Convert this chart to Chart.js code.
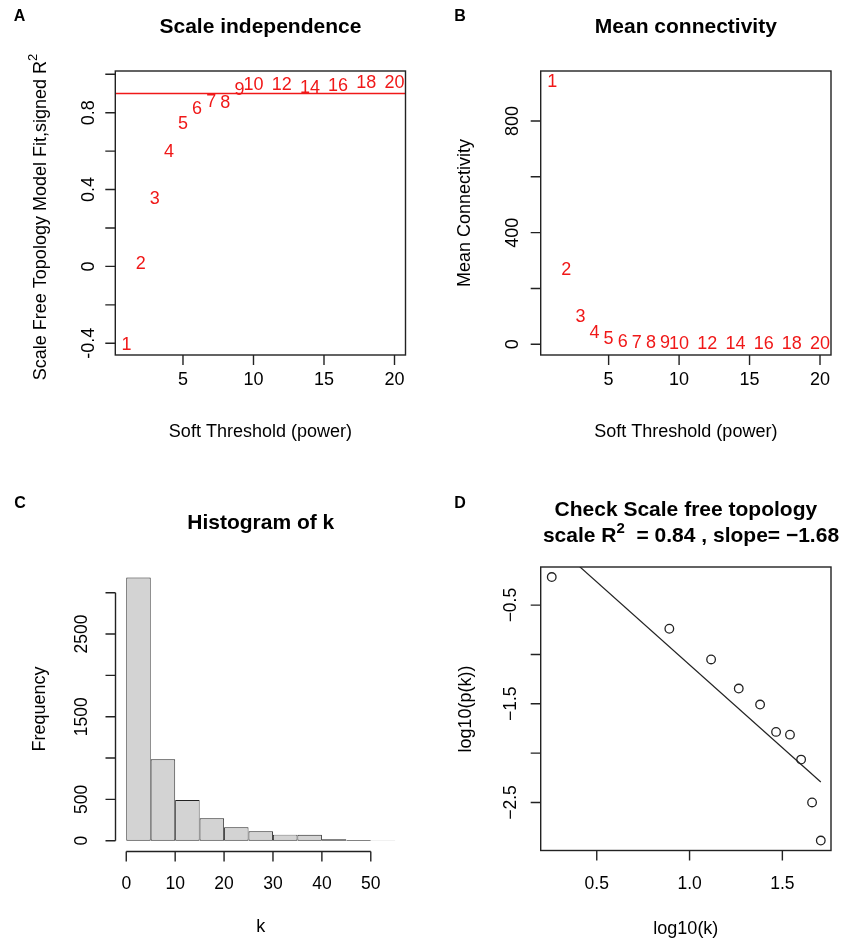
<!DOCTYPE html>
<html><head><meta charset="utf-8">
<script src="https://cdn.jsdelivr.net/npm/chart.js@4.4.1/dist/chart.umd.min.js"></script>
<style>
html,body{margin:0;padding:0;background:#fff;}
#wrap{position:relative;width:843px;height:938px;overflow:hidden;background:#fff;}
canvas{position:absolute;left:0;top:0;}
</style></head><body>
<div id="wrap">
<canvas id="cA" width="843" height="938"></canvas>
<canvas id="cB" width="843" height="938"></canvas>
<canvas id="cC" width="843" height="938"></canvas>
<canvas id="cD" width="843" height="938"></canvas>
</div>
<script>
// ---------- DATA ----------
// Panel A / B : soft-threshold powers
const powers = [1,2,3,4,5,6,7,8,9,10,12,14,16,18,20];
const scaleFreeR2 = [-0.41,0.014,0.353,0.596,0.74,0.82,0.857,0.849,0.92,0.946,0.943,0.926,0.94,0.956,0.953];
const r2Cutoff = 0.9;
const meanConnectivity = [940,266,99,39,19,9,5,4,3,2,1,0.6,0.4,0.3,0.2];
// Panel C : histogram of k
const histBinStart = [0,5,10,15,20,25,30,35,40,45,50];
const histBinWidth = 5;
const histCounts = [3184,985,493,271,162,114,73,72,18,10,3];
// Panel D : scale-free check
const log10k = [0.2575,0.891,1.116,1.265,1.380,1.466,1.541,1.601,1.660,1.707];
const log10pk = [-0.216,-0.740,-1.051,-1.346,-1.508,-1.785,-1.813,-2.066,-2.500,-2.886];
const fitLineX = [0.2575,1.707];
const fitLineY = [0.142,-2.293];
// Tick values and labels
const ticksAx = [5,10,15,20];
const ticksAy = [-0.4,-0.2,0,0.2,0.4,0.6,0.8,1.0];
const labelsAy = ['-0.4','','0','','0.4','','0.8',''];
const ticksBx = [5,10,15,20];
const ticksBy = [0,200,400,600,800];
const labelsBy = ['0','','400','','800'];
const ticksCx = [0,10,20,30,40,50];
const ticksCy = [0,500,1000,1500,2000,2500,3000];
const labelsCy = ['0','500','','1500','','2500',''];
const ticksDx = [0.5,1.0,1.5];
const labelsDx = ['0.5','1.0','1.5'];
const ticksDy = [-2.5,-2.0,-1.5,-1.0,-0.5];
const labelsDy = ['\u22122.5','','\u22121.5','','\u22120.5'];

// ---------- STYLE ----------
const FONT = '"Liberation Sans", Arial, Helvetica, sans-serif';
const INK = '#222';
const REDC = '#f01818';

function richWidth(ctx, parts){
  let w=0; for(const p of parts){ctx.font=p.f; w+=ctx.measureText(p.t).width;} return w;
}
function drawRich(ctx, parts, cx, cy){
  const w = richWidth(ctx, parts);
  let x = cx - w/2;
  ctx.textAlign='left'; ctx.textBaseline='middle';
  for(const p of parts){ctx.font=p.f; ctx.fillText(p.t, x, cy+(p.dy||0)); x+=ctx.measureText(p.t).width;}
}

const rAxes = {
  id:'rAxes',
  afterDatasetsDraw(chart, args, o){
    if(!o) return;
    const ctx=chart.ctx, a=chart.chartArea, ys=chart.scales.y;
    if(typeof o.hline==='number'){
      const py=ys.getPixelForValue(o.hline);
      ctx.save(); ctx.strokeStyle=REDC; ctx.lineWidth=1.4;
      ctx.beginPath(); ctx.moveTo(a.left,py); ctx.lineTo(a.right,py); ctx.stroke(); ctx.restore();
    }
    if(!o.textLabels) return;
    const meta=chart.getDatasetMeta(0);
    ctx.save(); ctx.fillStyle=REDC; ctx.font='18px '+FONT;
    ctx.textAlign='center'; ctx.textBaseline='middle';
    meta.data.forEach((el,i)=>{ ctx.fillText(String(o.textLabels[i]), el.x, el.y); });
    ctx.restore();
  },
  afterDraw(chart, args, o){
    if(!o || !o.xTicks) return;
    const ctx=chart.ctx, a=chart.chartArea, xs=chart.scales.x, ys=chart.scales.y;
    ctx.save();
    ctx.strokeStyle=INK; ctx.fillStyle='#000'; ctx.lineWidth=1.4; ctx.lineCap='butt';
    if(o.box){ ctx.strokeRect(a.left,a.top,a.right-a.left,a.bottom-a.top); }
    const tl=o.tickLen||10;
    const xs0=o.xTicks.map(v=>xs.getPixelForValue(v));
    ctx.beginPath();
    if(o.axisLines){ ctx.moveTo(xs0[0],a.bottom); ctx.lineTo(xs0[xs0.length-1],a.bottom); }
    xs0.forEach(px=>{ctx.moveTo(px,a.bottom); ctx.lineTo(px,a.bottom+tl);});
    const ys0=o.yTicks.map(v=>ys.getPixelForValue(v));
    if(o.axisLines){ ctx.moveTo(a.left,ys0[0]); ctx.lineTo(a.left,ys0[ys0.length-1]); }
    ys0.forEach(py=>{ctx.moveTo(a.left,py); ctx.lineTo(a.left-tl,py);});
    ctx.stroke();
    ctx.font=o.tickFont+'px '+FONT; ctx.textAlign='center'; ctx.textBaseline='middle';
    xs0.forEach((px,i)=>{ const t=o.xLabels[i]; if(t) ctx.fillText(t,px,o.xLabelY); });
    ys0.forEach((py,i)=>{ const t=o.yLabels[i]; if(!t) return;
      ctx.save(); ctx.translate(o.yLabelX,py); ctx.rotate(-Math.PI/2); ctx.fillText(t,0,0); ctx.restore(); });
    ctx.font='18px '+FONT;
    ctx.fillText(o.xTitle,(a.left+a.right)/2,o.xTitleY);
    ctx.save(); ctx.translate(o.yTitleX,o.yTitleCY); ctx.rotate(-Math.PI/2);
    drawRich(ctx,o.yTitle,0,0); ctx.restore();
    o.title.forEach(line=>{ drawRich(ctx,line.parts,line.cx!==undefined?line.cx:(a.left+a.right)/2,line.y); });
    ctx.font='bold 16px '+FONT; ctx.textAlign='center'; ctx.textBaseline='middle';
    ctx.fillText(o.letter[0],o.letter[1],o.letter[2]);
    ctx.restore();
  }
};
Chart.register(rAxes);

const BOLD='bold 21px '+FONT, REG='18px '+FONT;
function baseOpts(pad, xr, yr, plug, xtickHook){
  return {
    responsive:false, animation:false, events:[],
    layout:{padding:pad},
    plugins:{legend:{display:false}, tooltip:{enabled:false}, rAxes:plug},
    scales:{
      x:{type:'linear',display:false,offset:false,min:xr[0],max:xr[1],afterBuildTicks:xtickHook,grid:{offset:false}},
      y:{type:'linear',display:false,min:yr[0],max:yr[1]}
    }
  };
}

// Panel A
new Chart(document.getElementById('cA'),{
  type:'scatter',
  data:{datasets:[{data:powers.map((p,i)=>({x:p,y:scaleFreeR2[i]})),pointRadius:0}]},
  options:baseOpts({left:115.3,top:71,right:843-405.5,bottom:938-355},[0.2,20.78],[-0.461,1.017],{
    textLabels:powers, hline:r2Cutoff, box:true,
    xTicks:ticksAx, xLabels:ticksAx.map(String), yTicks:ticksAy, yLabels:labelsAy,
    tickFont:18, xLabelY:380, yLabelX:89.5,
    xTitle:'Soft Threshold (power)', xTitleY:432,
    yTitle:[{t:'Scale Free Topology Model Fit,signed R',f:REG},{t:'2',f:'13px '+FONT,dy:-8}],
    yTitleX:41, yTitleCY:217,
    title:[{parts:[{t:'Scale independence',f:BOLD}],y:27.5}],
    letter:['A',19.5,16.5]
  })
});

// Panel B
new Chart(document.getElementById('cB'),{
  type:'scatter',
  data:{datasets:[{data:powers.map((p,i)=>({x:p,y:meanConnectivity[i]})),pointRadius:0}]},
  options:baseOpts({left:540.7,top:71,right:843-831,bottom:938-355},[0.18,20.78],[-38.3,979],{
    textLabels:powers, box:true,
    xTicks:ticksBx, xLabels:ticksBx.map(String), yTicks:ticksBy, yLabels:labelsBy,
    tickFont:18, xLabelY:380, yLabelX:513,
    xTitle:'Soft Threshold (power)', xTitleY:432,
    yTitle:[{t:'Mean Connectivity',f:REG}],
    yTitleX:465, yTitleCY:213,
    title:[{parts:[{t:'Mean connectivity',f:BOLD}],y:27.5}],
    letter:['B',460,16.5]
  })
});

// Panel C
new Chart(document.getElementById('cC'),{
  type:'bar',
  data:{datasets:[{
    data:histBinStart.map((s,i)=>({x:s+histBinWidth/2,y:histCounts[i]})),
    backgroundColor:'#d3d3d3', borderColor:'#222', borderWidth:0.9, borderSkipped:false,
    barPercentage:1, categoryPercentage:1, inflateAmount:0
  }]},
  options:baseOpts({left:115.5,top:567,right:843-406,bottom:938-851.5},[-2.2,57.2],[-130,3311],{
    box:false, axisLines:true,
    xTicks:ticksCx, xLabels:ticksCx.map(String), yTicks:ticksCy, yLabels:labelsCy,
    tickFont:17.5, xLabelY:884.5, yLabelX:82.5,
    xTitle:'k', xTitleY:927,
    yTitle:[{t:'Frequency',f:REG}],
    yTitleX:40, yTitleCY:709,
    title:[{parts:[{t:'Histogram of k',f:BOLD}],y:523.5}],
    letter:['C',20,504]
  }, s=>{ s.ticks=ticksCx.map(v=>({value:v})); })
});

// Panel D
new Chart(document.getElementById('cD'),{
  type:'scatter',
  data:{datasets:[
    {data:log10k.map((v,i)=>({x:v,y:log10pk[i]})),pointRadius:4.3,pointBorderWidth:1.3,
     pointBackgroundColor:'rgba(0,0,0,0)',pointBorderColor:'#222'},
    {data:fitLineX.map((v,i)=>({x:v,y:fitLineY[i]})),showLine:true,pointRadius:0,
     borderColor:'#222',borderWidth:1.2}
  ]},
  options:baseOpts({left:540.7,top:567,right:843-831,bottom:938-850.5},[0.198,1.762],[-2.987,-0.114],{
    box:true,
    xTicks:ticksDx, xLabels:labelsDx, yTicks:ticksDy, yLabels:labelsDy,
    tickFont:17.5, xLabelY:884.5, yLabelX:511,
    xTitle:'log10(k)', xTitleY:929,
    yTitle:[{t:'log10(p(k))',f:REG}],
    yTitleX:466.5, yTitleCY:709,
    title:[
      {parts:[{t:'Check Scale free topology',f:BOLD}],y:510.5},
      {parts:[{t:'scale R',f:BOLD},{t:'2',f:'bold 15px '+FONT,dy:-8},{t:'  = 0.84 , slope= \u22121.68',f:BOLD}],y:536.5,cx:691}
    ],
    letter:['D',460,504]
  })
});
</script>
</body></html>
